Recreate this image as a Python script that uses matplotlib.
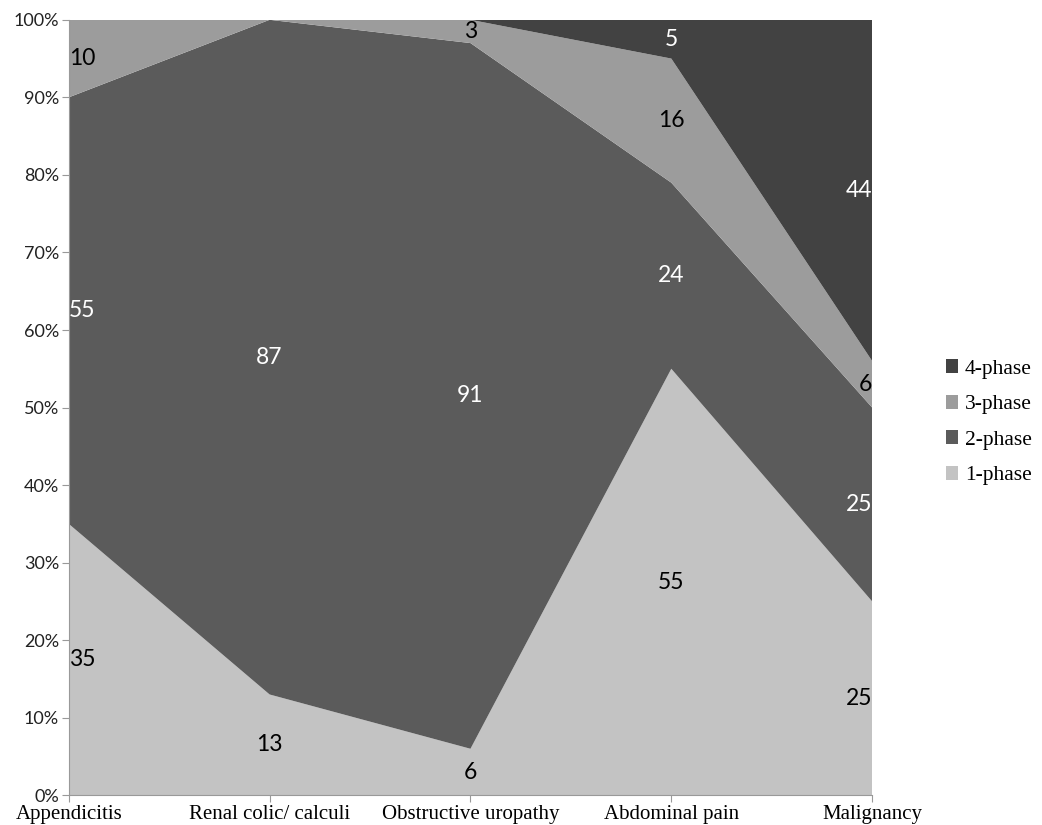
import numpy as np
import matplotlib.pyplot as plt
from matplotlib.patches import Patch
from matplotlib.ticker import FuncFormatter

categories = ['Appendicitis', 'Renal colic/ calculi', 'Obstructive uropathy',
              'Abdominal pain', 'Malignancy']
phase1 = [35, 13, 6, 55, 25]
phase2 = [55, 87, 91, 24, 25]
phase3 = [10, 0, 3, 16, 6]
phase4 = [0, 0, 0, 5, 44]
series_names = ['1-phase', '2-phase', '3-phase', '4-phase']

colors = ['#c3c3c3', '#5b5b5b', '#9c9c9c', '#424242']
label_colors = ['black', 'white', 'black', 'white']

fig = plt.figure(figsize=(10.42, 8.25), dpi=100)
ax = fig.add_axes([0.066, 0.036, 0.771, 0.94])

x = np.arange(len(categories))
data = np.array([phase1, phase2, phase3, phase4], dtype=float)
ax.stackplot(x, data, colors=colors, linewidth=0)

ax.set_xlim(0, len(categories) - 1)
ax.set_ylim(0, 100)

# data labels at the middle of each band
bottoms = np.zeros(len(categories))
for s in range(len(data)):
    for i in range(len(categories)):
        v = data[s, i]
        if v > 0:
            if i == 0:
                ha = 'left'
            elif i == len(categories) - 1:
                ha = 'right'
            else:
                ha = 'center'
            ax.text(x[i], bottoms[i] + v / 2, f'{int(v)}', ha=ha, va='center',
                    fontsize=16.5, color=label_colors[s], family='Lato')
    bottoms += data[s]

ax.set_xticks(x)
ax.set_xticklabels(categories, family='Liberation Serif', fontsize=15)
ax.set_yticks(np.arange(0, 101, 10))
ax.yaxis.set_major_formatter(FuncFormatter(lambda v, p: f'{int(v)}%'))
for lab in ax.get_yticklabels():
    lab.set_family('Lato')
    lab.set_fontsize(13)
    lab.set_color('#222222')

ax.tick_params(axis='both', length=5, color='#999999', pad=2)
ax.tick_params(axis='x', pad=2)
for side in ['top', 'right']:
    ax.spines[side].set_visible(False)
for side in ['left', 'bottom']:
    ax.spines[side].set_color('#999999')

handles = [Patch(facecolor=colors[s], edgecolor='none') for s in range(3, -1, -1)]
names = [series_names[s] for s in range(3, -1, -1)]
fig.legend(handles, names, loc='center left', bbox_to_anchor=(0.893, 0.488),
           frameon=False, prop={'family': 'Liberation Serif', 'size': 15.5},
           handlelength=0.6, handleheight=0.6, handletextpad=0.3,
           labelspacing=0.75, borderpad=0.2)

fig.savefig('out.png', dpi=100)
